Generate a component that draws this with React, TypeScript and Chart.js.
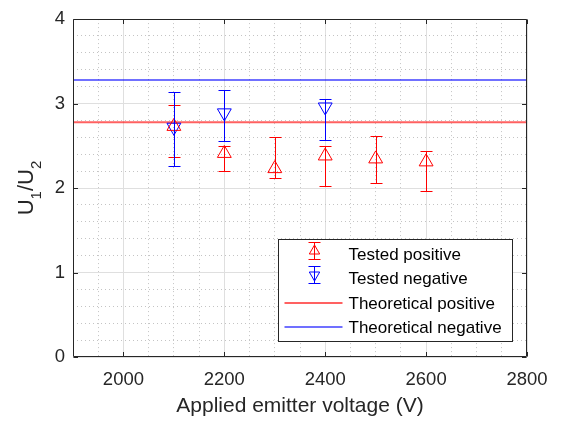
import React, { useEffect, useRef } from 'react';
import { Chart, registerables } from 'chart.js';

Chart.register(...registerables);

// ---- data ----
const positiveVoltages = [2100, 2200, 2300, 2400, 2500, 2600];
const positiveRatio = [2.73, 2.41, 2.23, 2.38, 2.345, 2.31];
const positiveLower = [2.37, 2.2, 2.12, 2.03, 2.06, 1.96];
const positiveUpper = [2.98, 2.5, 2.6, 2.5, 2.62, 2.44];

const negativeVoltages = [2100, 2200, 2400];
const negativeRatio = [2.72, 2.89, 2.96];
const negativeLower = [2.265, 2.557, 2.57];
const negativeUpper = [3.14, 3.165, 3.06];

const theoreticalPositive = 2.78;
const theoreticalNegative = 3.28;

const xLimits = [1900, 2800];
const yLimits = [0, 4];
const xMajorStep = 200;
const xMinorStep = 50;
const yMajorStep = 1;
const yMinorStep = 0.2;

const legendLabels = ['Tested positive', 'Tested negative', 'Theoretical positive', 'Theoretical negative'];
const xTitle = 'Applied emitter voltage (V)';

// ---- styles ----
const FONT = '"Liberation Sans", Arial, Helvetica, sans-serif';
const TEXT = '#262626';
const RED = '#ff0000';
const BLUE = '#0000ff';
const RED_LINE = 'rgba(255,0,0,0.62)';
const BLUE_LINE = 'rgba(0,0,255,0.56)';
const MAJOR_GRID = '#dfdfdf';
const MINOR_GRID = '#c4c4c4';

const isMultiple = (v: number, step: number) => {
  const r = v / step;
  return Math.abs(r - Math.round(r)) < 1e-6;
};

const errorBarPlugin = {
  id: 'errorBars',
  afterDatasetsDraw(chart: any) {
    const { ctx } = chart;
    const xs = chart.scales.x;
    const ys = chart.scales.y;
    chart.data.datasets.forEach((ds: any) => {
      if (!ds.errLow) return;
      ctx.save();
      ctx.strokeStyle = ds.borderColor;
      ctx.lineWidth = 1;
      ds.data.forEach((p: any, j: number) => {
        const px = Math.round(xs.getPixelForValue(p.x)) + 0.5;
        const yl = Math.round(ys.getPixelForValue(ds.errLow[j])) + 0.5;
        const yh = Math.round(ys.getPixelForValue(ds.errHigh[j])) + 0.5;
        const cap = 6;
        ctx.beginPath();
        ctx.moveTo(px, yh);
        ctx.lineTo(px, yl);
        ctx.moveTo(px - cap, yh);
        ctx.lineTo(px + cap, yh);
        ctx.moveTo(px - cap, yl);
        ctx.lineTo(px + cap, yl);
        ctx.stroke();
      });
      ctx.restore();
    });
  },
};

const framePlugin = {
  id: 'frame',
  afterDatasetsDraw(chart: any) {
    const { ctx, chartArea: a } = chart;
    const xs = chart.scales.x;
    const ys = chart.scales.y;
    ctx.save();
    ctx.strokeStyle = TEXT;
    ctx.lineWidth = 1;
    const L = Math.round(a.left) + 0.5;
    const R = Math.round(a.right) - 0.5;
    const T = Math.round(a.top) + 0.5;
    const B = Math.round(a.bottom) - 0.5;
    ctx.beginPath();
    ctx.rect(L, T, R - L, B - T);
    const tl = 4.5;
    xs.ticks.forEach((t: any) => {
      if (!isMultiple(t.value, xMajorStep)) return;
      const px = Math.round(xs.getPixelForValue(t.value)) + 0.5;
      ctx.moveTo(px, B);
      ctx.lineTo(px, B - tl);
      ctx.moveTo(px, T);
      ctx.lineTo(px, T + tl);
    });
    ys.ticks.forEach((t: any) => {
      if (!isMultiple(t.value, yMajorStep)) return;
      const py = Math.round(ys.getPixelForValue(t.value)) + 0.5;
      ctx.moveTo(L, py);
      ctx.lineTo(L + tl, py);
      ctx.moveTo(R, py);
      ctx.lineTo(R - tl, py);
    });
    ctx.stroke();
    ctx.restore();
  },
};

const yLabelPlugin = {
  id: 'yLabel',
  afterDraw(chart: any) {
    const { ctx, chartArea: a } = chart;
    const parts = [
      { t: 'U', sub: false },
      { t: '1', sub: true },
      { t: '/U', sub: false },
      { t: '2', sub: true },
    ];
    const big = `22px ${FONT}`;
    const small = `15px ${FONT}`;
    ctx.save();
    let total = 0;
    parts.forEach((p) => {
      ctx.font = p.sub ? small : big;
      total += ctx.measureText(p.t).width;
    });
    ctx.translate(a.left - 40, (a.top + a.bottom) / 2);
    ctx.rotate(-Math.PI / 2);
    ctx.fillStyle = TEXT;
    ctx.textBaseline = 'alphabetic';
    ctx.textAlign = 'left';
    let x = -total / 2;
    parts.forEach((p) => {
      ctx.font = p.sub ? small : big;
      ctx.fillText(p.t, x, p.sub ? 8 : 0);
      x += ctx.measureText(p.t).width;
    });
    ctx.restore();
  },
};

const legendPlugin = {
  id: 'customLegend',
  afterDraw(chart: any) {
    const { ctx, chartArea: a } = chart;
    const w = 234;
    const h = 102;
    const right = Math.round(a.right - 15) + 0.5;
    const bottom = Math.round(a.bottom - 16) + 0.5;
    const left = right - w;
    const top = bottom - h;
    ctx.save();
    ctx.fillStyle = '#ffffff';
    ctx.fillRect(left, top, w, h);
    ctx.strokeStyle = TEXT;
    ctx.lineWidth = 1;
    ctx.strokeRect(left, top, w, h);

    const styles = [
      { kind: 'err', color: RED, up: true },
      { kind: 'err', color: BLUE, up: false },
      { kind: 'line', color: RED_LINE },
      { kind: 'line', color: BLUE_LINE },
    ];
    legendLabels.forEach((label, i) => {
      const cy = top + 15 + i * 24.2;
      const s: any = styles[i];
      if (s.kind === 'line') {
        ctx.strokeStyle = s.color;
        ctx.lineWidth = 2;
        ctx.beginPath();
        ctx.moveTo(left + 6, cy);
        ctx.lineTo(left + 64, cy);
        ctx.stroke();
      } else {
        const cx = Math.round(left + 35) + 0.5;
        const sy = Math.round(cy - 4);
        ctx.strokeStyle = s.color;
        ctx.lineWidth = 1;
        ctx.beginPath();
        ctx.moveTo(cx, sy - 9);
        ctx.lineTo(cx, sy + 9);
        ctx.moveTo(cx - 6, sy - 9 + 0.5);
        ctx.lineTo(cx + 6, sy - 9 + 0.5);
        ctx.moveTo(cx - 6, sy + 9 - 0.5);
        ctx.lineTo(cx + 6, sy + 9 - 0.5);
        ctx.stroke();
        const r = 6;
        const dir = s.up ? 1 : -1;
        ctx.beginPath();
        ctx.moveTo(cx, sy - dir * r);
        ctx.lineTo(cx + r * 0.866, sy + dir * r * 0.5);
        ctx.lineTo(cx - r * 0.866, sy + dir * r * 0.5);
        ctx.closePath();
        ctx.stroke();
      }
      ctx.fillStyle = '#000000';
      ctx.font = `17px ${FONT}`;
      ctx.textBaseline = 'middle';
      ctx.textAlign = 'left';
      ctx.fillText(label, left + 70, cy + 1);
    });
    ctx.restore();
  },
};

export default function App() {
  const canvasRef = useRef<HTMLCanvasElement | null>(null);

  useEffect(() => {
    if (!canvasRef.current) return;
    const gridColor = (ctx: any, step: number) =>
      ctx.tick && isMultiple(ctx.tick.value, step) ? MAJOR_GRID : MINOR_GRID;
    const gridDash = (ctx: any, step: number) =>
      ctx.tick && isMultiple(ctx.tick.value, step) ? [] : [1, 3];

    const chart = new Chart(canvasRef.current, {
      type: 'scatter',
      data: {
        datasets: [
          {
            label: legendLabels[0],
            data: positiveVoltages.map((x, i) => ({ x, y: positiveRatio[i] })),
            errLow: positiveLower,
            errHigh: positiveUpper,
            borderColor: RED,
            backgroundColor: 'rgba(0,0,0,0)',
            pointStyle: 'triangle',
            pointRadius: 8,
            pointHoverRadius: 8,
            borderWidth: 1,
            showLine: false,
          } as any,
          {
            label: legendLabels[1],
            data: negativeVoltages.map((x, i) => ({ x, y: negativeRatio[i] })),
            errLow: negativeLower,
            errHigh: negativeUpper,
            borderColor: BLUE,
            backgroundColor: 'rgba(0,0,0,0)',
            pointStyle: 'triangle',
            rotation: 180,
            pointRadius: 8,
            pointHoverRadius: 8,
            borderWidth: 1,
            showLine: false,
          } as any,
          {
            type: 'line',
            label: legendLabels[2],
            data: xLimits.map((x) => ({ x, y: theoreticalPositive })),
            borderColor: RED_LINE,
            borderWidth: 2,
            pointRadius: 0,
            showLine: true,
          } as any,
          {
            type: 'line',
            label: legendLabels[3],
            data: xLimits.map((x) => ({ x, y: theoreticalNegative })),
            borderColor: BLUE_LINE,
            borderWidth: 2,
            pointRadius: 0,
            showLine: true,
          } as any,
        ],
      },
      options: {
        animation: false,
        responsive: true,
        maintainAspectRatio: false,
        layout: { padding: { left: 0, top: 10, right: 35, bottom: 0 } },
        plugins: {
          legend: { display: false },
          tooltip: { enabled: false },
          title: { display: false },
        },
        scales: {
          x: {
            type: 'linear',
            min: xLimits[0],
            max: xLimits[1],
            afterFit: (s: any) => {
              s.height = 69;
            },
            ticks: {
              stepSize: xMinorStep,
              autoSkip: false,
              maxRotation: 0,
              minRotation: 0,
              padding: 12,
              color: TEXT,
              font: { family: FONT, size: 18.5 },
              callback: (v: any) => (isMultiple(Number(v), xMajorStep) && Number(v) > xLimits[0] ? String(v) : ''),
            },
            grid: {
              drawTicks: false,
              lineWidth: 1,
              color: (c: any) => gridColor(c, xMajorStep),
            },
            border: {
              display: false,
              dash: (c: any) => gridDash(c, xMajorStep),
            },
            title: {
              display: true,
              text: xTitle,
              color: TEXT,
              font: { family: FONT, size: 21 },
              padding: { top: 0, bottom: 7 },
            },
          } as any,
          y: {
            type: 'linear',
            min: yLimits[0],
            max: yLimits[1],
            afterFit: (s: any) => {
              s.width = 73;
            },
            ticks: {
              stepSize: yMinorStep,
              autoSkip: false,
              padding: 8,
              color: TEXT,
              font: { family: FONT, size: 18.5 },
              callback: (v: any) => (isMultiple(Number(v), yMajorStep) ? String(Math.round(Number(v))) : ''),
            },
            grid: {
              drawTicks: false,
              lineWidth: 1,
              color: (c: any) => gridColor(c, yMajorStep),
            },
            border: {
              display: false,
              dash: (c: any) => gridDash(c, yMajorStep),
            },
          } as any,
        },
      } as any,
      plugins: [errorBarPlugin, framePlugin, yLabelPlugin, legendPlugin],
    });
    return () => chart.destroy();
  }, []);

  return (
    <div style={{ position: 'fixed', left: 0, top: 0, width: 562, height: 426, background: '#ffffff' }}>
      <canvas ref={canvasRef} />
    </div>
  );
}
